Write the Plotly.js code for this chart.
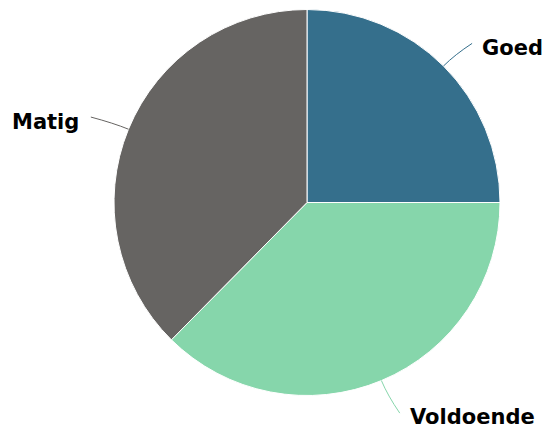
<!DOCTYPE html>
<html>
<head>
<meta charset="utf-8">
<script src="https://cdn.plot.ly/plotly-3.0.1.min.js"></script>
<style>html,body{margin:0;padding:0;background:#fff;}#chart{width:551px;height:430px;}</style>
</head>
<body>
<div id="chart"></div>
<script>
var categories = ["Goed", "Voldoende", "Matig"];
var values = [25, 37.4, 37.6];
var colors = ["#356f8c", "#86d6ab", "#666462"];

var W = 551, H = 430;
var cx = 307, cy = 202.5, R = 193;

function px(x) { return x / W; }
function py(y) { return 1 - y / H; }

var total = values.reduce(function (a, b) { return a + b; }, 0);
var shapes = [], annotations = [];
var acc = 0;
for (var i = 0; i < values.length; i++) {
  var mid = (acc + values[i] / 2) / total * 2 * Math.PI;
  acc += values[i];
  var dx = Math.sin(mid), dy = -Math.cos(mid);
  var sx = cx + R * dx, sy = cy + R * dy;
  var mx = cx + (R + 16) * dx, my = cy + (R + 16) * dy;
  var ex = cx + (R + 32) * dx + (dx > 0 ? 6 : -8), ey = cy + (R + 32) * dy + (dy > 0 ? 3 : 0);
  shapes.push({
    type: "path", xref: "paper", yref: "paper",
    path: "M" + px(sx) + "," + py(sy) + " Q" + px(mx) + "," + py(my) + " " + px(ex) + "," + py(ey),
    line: { color: colors[i], width: 1 }
  });
  annotations.push({
    xref: "paper", yref: "paper",
    x: px(ex + (dx > 0 ? 9 : -11)), y: py(ey + (dy > 0 ? 4 : 5)),
    xanchor: dx > 0 ? "left" : "right", yanchor: "middle",
    text: categories[i], showarrow: false, borderpad: 0,
    font: { family: "DejaVu Sans", size: 21, color: "#000000", weight: "bold" }
  });
}

var data = [{
  type: "pie",
  labels: categories,
  values: values,
  sort: false,
  direction: "clockwise",
  rotation: 0,
  textinfo: "none",
  hoverinfo: "label+percent",
  marker: { colors: colors, line: { color: "#ffffff", width: 1 } },
  domain: { x: [px(cx - R), px(cx + R)], y: [py(cy + R), py(cy - R)] }
}];

var layout = {
  width: W, height: H,
  margin: { l: 0, r: 0, t: 0, b: 0 },
  showlegend: false,
  paper_bgcolor: "#ffffff",
  shapes: shapes,
  annotations: annotations
};

Plotly.newPlot("chart", data, layout, { displayModeBar: false, staticPlot: true });
</script>
</body>
</html>
